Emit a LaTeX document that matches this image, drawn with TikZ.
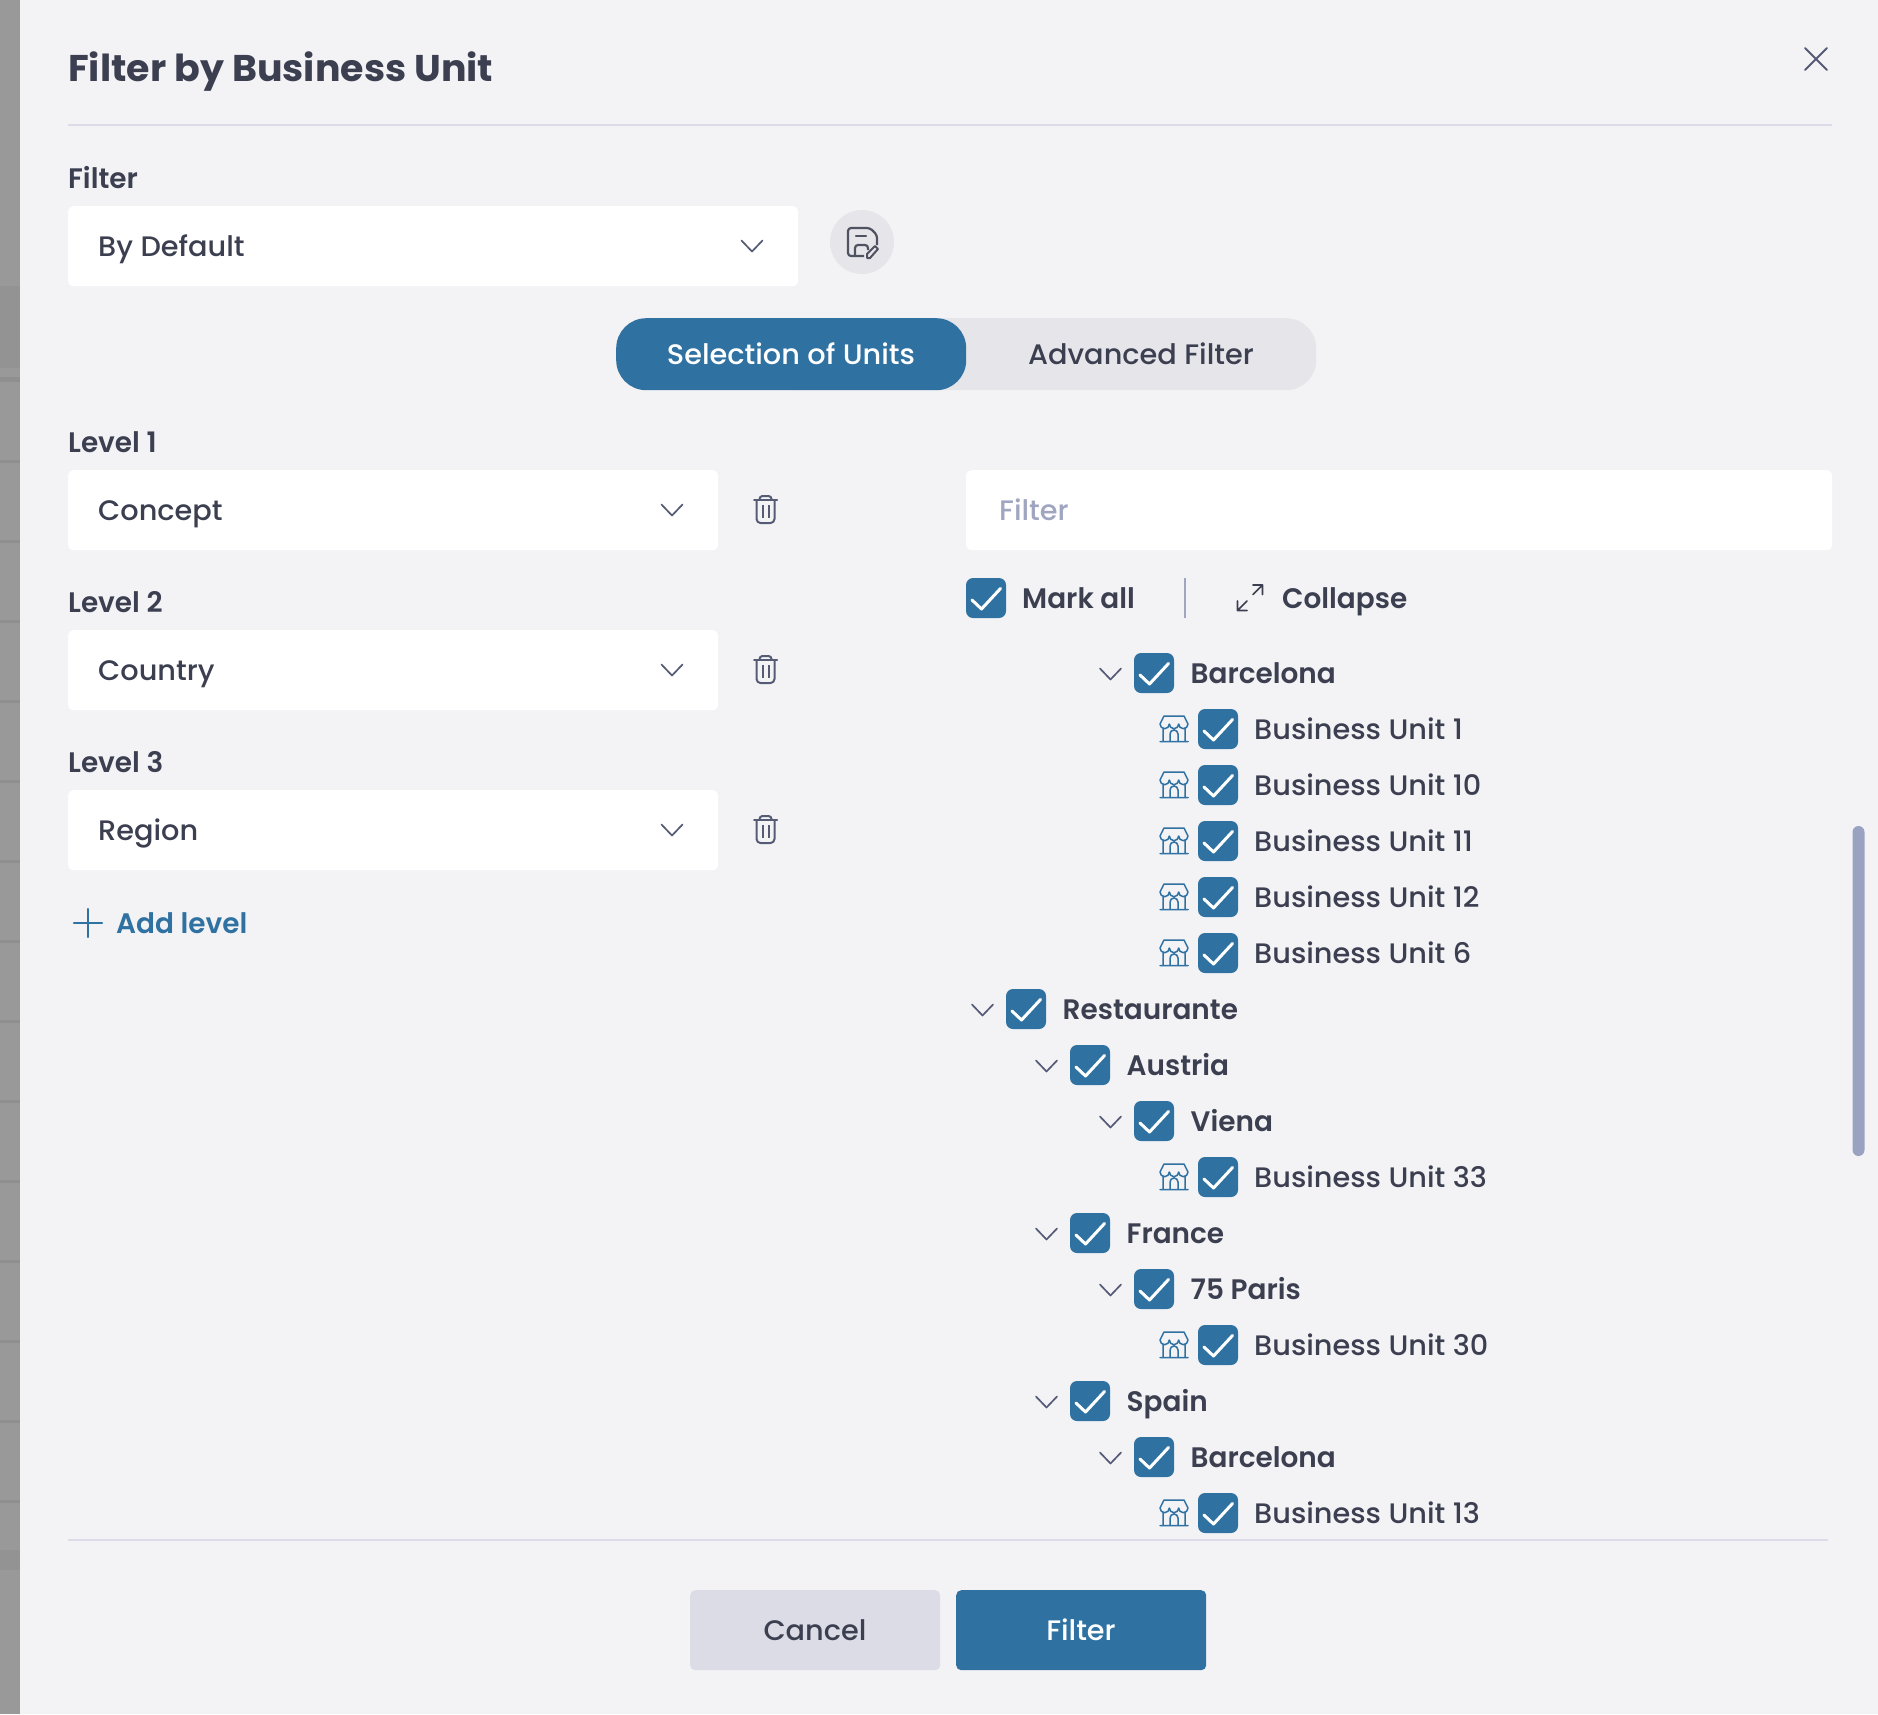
\documentclass[tikz,border=0pt]{standalone}
\usepackage{fontspec}
\setmainfont{Poppins Medium}[FakeStretch=1.02, BoldFont={Poppins SemiBold}, BoldFeatures={FakeStretch=0.99}]
\newfontfamily\titlefont{Poppins Bold}[FakeStretch=1.02]
\usepackage{xcolor}
\usepackage{tikz}
\usetikzlibrary{positioning}
\definecolor{dlgbg}{HTML}{F3F3F6}
\definecolor{stripgray}{HTML}{999999}
\definecolor{stripdark}{HTML}{8F8F8F}
\definecolor{stripband}{HTML}{939393}
\definecolor{inkdark}{HTML}{3B3F50}
\definecolor{inkicon}{HTML}{565B75}
\definecolor{unitblue}{HTML}{2F71A1}
\definecolor{pillgray}{HTML}{E5E5EA}
\definecolor{cancelgray}{HTML}{DCDCE7}
\definecolor{rulegray}{HTML}{DCDCE8}
\definecolor{hintgray}{HTML}{A0A6C0}
\definecolor{scrollgray}{HTML}{9AA2C1}
\newcommand{\txtbody}{\fontsize{28.2}{33}\selectfont}
\newcommand{\txttitle}{\fontsize{37.2}{42}\titlefont}

\begin{document}
\begin{tikzpicture}[
    x=1pt, y=-1pt,
    field/.style={rectangle, fill=white, rounded corners=5pt, inner sep=0pt, anchor=north west, minimum height=80pt},
    pillbox/.style={rectangle, rounded corners=30pt, inner sep=0pt, anchor=north west, minimum height=72pt},
    btnbox/.style={rectangle, rounded corners=5pt, inner sep=0pt, anchor=north west, minimum width=250pt, minimum height=80pt},
    checkbox/.style={rectangle, fill=unitblue, rounded corners=7pt, inner sep=0pt, minimum size=40pt},
    txt/.style={anchor=base west, inner sep=0pt, text=inkdark, font=\txtbody},
    txtb/.style={txt, font=\txtbody\bfseries},
    chev/.style={inkicon, line width=1.7pt, line cap=round, line join=round},
    ruleline/.style={rulegray, line width=1.8pt},
    tick/.pic={\draw[white, line width=3pt, line cap=round, line join=round] (-14,2) -- (-4.5,11) -- (14.5,-9.5);},
    chevdown/.pic={\draw[chev] (-10.5,-5.5) -- (0,5.5) -- (10.5,-5.5);},
    trash/.pic={
      \draw[inkicon, line width=2pt, line cap=round, line join=round, rounded corners=4pt]
        (-9,-10) -- (-9,13) -- (9,13) -- (9,-10);
      \draw[inkicon, line width=2pt, line cap=round] (-11.5,-10) -- (11.5,-10);
      \draw[inkicon, line width=2pt, rounded corners=3pt] (-6,-10) -- (-6,-14) -- (6,-14) -- (6,-10);
      \draw[inkicon, line width=2pt] (-3,-5) -- (-3,8) (3,-5) -- (3,8);},
    store/.pic={
      \draw[unitblue, line width=1.5pt, line join=round, line cap=round]
        (-10,-13) -- (10,-13) -- (14,-5) arc[start angle=0, end angle=180, radius=4.67] arc[start angle=0, end angle=180, radius=4.67] arc[start angle=0, end angle=180, radius=4.67] -- cycle
        (-11,-1) -- (-11,12) (11,-1) -- (11,12)
        (-14,12.5) -- (14,12.5)
        (-4,12) -- (-4,5) arc[start angle=180, end angle=360, radius=4] -- (4,12);}
]
\useasboundingbox (0,0) rectangle (1878,1714);
\fill[dlgbg] (0,0) rectangle (1878,1714);

% page behind the dialog
\fill[stripgray] (0,0) rectangle (20,1714);
\fill[stripband] (0,286) rectangle (20,368);
\fill[stripband] (0,1550) rectangle (20,1570);
\fill[stripdark] (0,377) rectangle (20,382);
\foreach \liney in {461,541,...,1501} {
  \fill[stripdark] (0,\liney-1.5) rectangle (20,\liney+1.5);
}

% header
\node[txt, font=\txttitle] (title) at (68,81) {Filter by Business Unit};
\draw[inkicon, line width=2pt, line cap=round] (1805,48) -- (1827,70) (1827,48) -- (1805,70);
\draw[ruleline] (68,125) -- (1832,125);

% saved filter row
\node[txtb] (filterlabel) at (68,188) {Filter};
\node[field, minimum width=730pt] (filterbox) at (68,206) {};
\node[txt] (filtertext) at (98,256) {By Default};
\pic at (752,246) {chevdown};
\node[circle, fill=pillgray, inner sep=0pt, minimum size=64pt] (savebtn) at (862,242) {};
\draw[inkdark!90, line width=2.2pt, line join=round, rounded corners=3pt]
  (864,256) -- (848,256) -- (848,228) -- (870,228) -- (877,235) -- (877,245);
\draw[inkdark!90, line width=2.2pt, line cap=round] (856,236) -- (866,236);
\draw[inkdark!90, line width=2.2pt, rounded corners=3pt] (855,255) -- (855,245) -- (868,245) -- (868,250);
\draw[inkdark!90, line width=2pt, line join=round] (867,258) -- (867,254) -- (875,246) -- (878,249) -- (870,258) -- cycle;

% tabs
\node[pillbox, fill=pillgray, minimum width=550pt] (tabback) at (766,318) {};
\node[pillbox, fill=unitblue, minimum width=350pt] (tabsel) at (616,318) {};
\node[txt, anchor=base, text=white] (tabseltext) at (791,364) {Selection of Units};
\node[txt, anchor=base] (tabadvtext) at (1141,364) {Advanced Filter};

% levels
\foreach \lvl/\lvlname/\lvly in {1/Concept/470, 2/Country/630, 3/Region/790} {
  \node[field, minimum width=650pt] (level\lvl) at (68,\lvly) {};
  \node[txtb] (levellabel\lvl) at (68,\lvly-18) {Level \lvl};
  \node[txt] (leveltext\lvl) at (98,\lvly+50) {\lvlname};
  \pic at (672,\lvly+40) {chevdown};
  \pic at (765.5,\lvly+40) {trash};
}
\draw[unitblue, line width=2.2pt, line cap=round] (74,923) -- (102,923) (88,909) -- (88,937);
\node[txtb, text=unitblue] (addlevel) at (116,933) {Add level};

% tree header
\node[field, minimum width=866pt] (searchbox) at (966,470) {};
\node[txt, text=hintgray] (searchtext) at (999,520) {Filter};
\node[checkbox] (markall) at (986,598) {};
\pic at (986,598) {tick};
\node[txtb] (markalltext) at (1022,608) {Mark all};
\draw[hintgray, line width=1.6pt] (1185,578) -- (1185,618);
\draw[inkdark, line width=1.7pt, line cap=round, line join=round]
  (1237.5,601) -- (1237.5,610.5) -- (1247,610.5) (1237.5,610.5) -- (1247,601)
  (1253,594.5) -- (1262.5,585) (1253,585) -- (1262.5,585) -- (1262.5,594.5);
\node[txtb] (collapsetext) at (1282,608) {Collapse};

% tree rows
\foreach \rowx/\rowy/\rowname in {1110/673/Barcelona, 982/1009/Restaurante, 1046/1065/Austria, 1110/1121/Viena, 1046/1233/France, 1110/1289/75 Paris, 1046/1401/Spain, 1110/1457/Barcelona} {
  \pic at (\rowx+0.5,\rowy+1) {chevdown};
  \node[checkbox] (chk\rowy) at (\rowx+44,\rowy) {};
  \pic at (\rowx+44,\rowy) {tick};
  \node[txtb] (row\rowy) at (\rowx+80.5,\rowy+10) {\rowname};
}
\foreach \unity/\unitno in {729/1, 785/10, 841/11, 897/12, 953/6, 1177/33, 1345/30, 1513/13} {
  \pic at (1174,\unity) {store};
  \node[checkbox] (chk\unity) at (1218,\unity) {};
  \pic at (1218,\unity) {tick};
  \node[txt] (unit\unity) at (1254,\unity+10) {Business Unit \unitno};
}
\node[rectangle, fill=scrollgray, rounded corners=6pt, inner sep=0pt, minimum width=12pt, minimum height=330pt] (scrollbar) at (1858.5,991) {};

% footer
\draw[ruleline] (68,1540) -- (1828,1540);
\node[btnbox, fill=cancelgray] (cancelbtn) at (690,1590) {};
\node[txt, anchor=base] (canceltext) at (815,1640) {Cancel};
\node[btnbox, fill=unitblue] (filterbtn) at (956,1590) {};
\node[txt, anchor=base, text=white] (filterbtntext) at (1081,1640) {Filter};

\end{tikzpicture}
\end{document}
